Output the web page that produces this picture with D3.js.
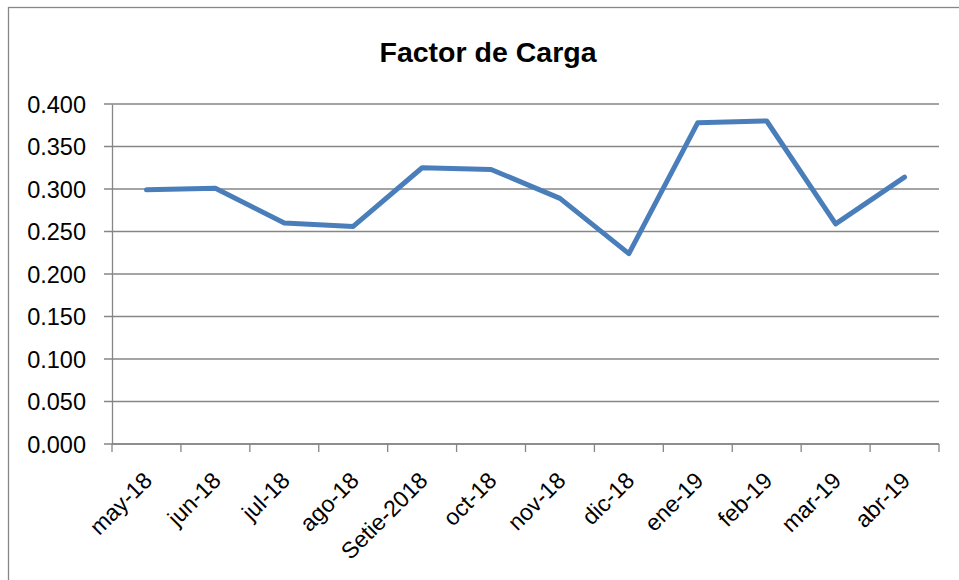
<!DOCTYPE html>
<html>
<head>
<meta charset="utf-8">
<script src="https://cdn.jsdelivr.net/npm/d3@7"></script>
<style>
  body { margin: 0; background: #fff; }
  svg text { font-family: "Liberation Sans", Arial, sans-serif; fill: #000; }
</style>
</head>
<body>
<div id="chart"></div>
<script>
// data
const months = ["may-18", "jun-18", "jul-18", "ago-18", "Setie-2018", "oct-18",
  "nov-18", "dic-18", "ene-19", "feb-19", "mar-19", "abr-19"];
const factor = [0.299, 0.301, 0.260, 0.256, 0.325, 0.323,
  0.289, 0.224, 0.378, 0.380, 0.259, 0.314];
const yTicks = [0, 0.05, 0.1, 0.15, 0.2, 0.25, 0.3, 0.35, 0.4];
const title = "Factor de Carga";

const width = 959, height = 580;
const margin = { top: 104, bottom: 136, left: 112, right: 20 };

const svg = d3.select("#chart").append("svg")
  .attr("width", width)
  .attr("height", height);

// outer chart border
svg.append("rect")
  .attr("x", 8.5).attr("y", 7.5)
  .attr("width", width + 10).attr("height", height + 10)
  .attr("fill", "none")
  .attr("stroke", "#878787")
  .attr("stroke-width", 1.3);

const xScale = d3.scaleBand()
  .domain(months)
  .range([margin.left, width - margin.right]);

const yScale = d3.scaleLinear()
  .domain([0, 0.4])
  .range([height - margin.bottom, margin.top]);

// gridlines
svg.append("g")
  .selectAll("line")
  .data(yTicks)
  .join("line")
  .attr("x1", margin.left - 8)
  .attr("x2", width - margin.right)
  .attr("y1", d => yScale(d))
  .attr("y2", d => yScale(d))
  .attr("stroke", "#868686")
  .attr("stroke-width", 1.3);

// y axis
const yAxis = d3.axisLeft(yScale)
  .tickValues(yTicks)
  .tickFormat(d3.format(".3f"))
  .tickSize(0)
  .tickPadding(26);

svg.append("g")
  .attr("transform", `translate(${margin.left},0)`)
  .call(yAxis)
  .call(g => g.select(".domain").attr("stroke", "#868686").attr("stroke-width", 1.3))
  .selectAll("text")
  .attr("font-size", 23.5)
  .attr("dy", "0.36em");

// x axis with tick marks at the band edges
const xAxis = d3.axisBottom(xScale).tickSize(0).tickFormat("");
const xg = svg.append("g")
  .attr("transform", `translate(0,${height - margin.bottom})`)
  .call(xAxis);
xg.select(".domain").remove();
xg.append("line")
  .attr("x1", margin.left).attr("x2", width - margin.right)
  .attr("stroke", "#868686").attr("stroke-width", 1.3);

const edges = months.map(m => xScale(m)).concat([width - margin.right]);
xg.selectAll(".edge")
  .data(edges)
  .join("line")
  .attr("class", "edge")
  .attr("x1", d => d).attr("x2", d => d)
  .attr("y1", 0).attr("y2", 8)
  .attr("stroke", "#868686").attr("stroke-width", 1.3);

xg.selectAll(".lbl")
  .data(months)
  .join("text")
  .attr("class", "lbl")
  .attr("font-size", 23)
  .attr("text-anchor", "end")
  .attr("transform", d => `translate(${xScale(d) + xScale.bandwidth() / 2 + 7},${38}) rotate(-45)`)
  .text(d => d);

// line
const line = d3.line()
  .x((d, i) => xScale(months[i]) + xScale.bandwidth() / 2)
  .y(d => yScale(d));

svg.append("path")
  .datum(factor)
  .attr("fill", "none")
  .attr("stroke", "#4a7ebb")
  .attr("stroke-width", 5)
  .attr("stroke-linejoin", "round")
  .attr("stroke-linecap", "round")
  .attr("d", line);

// title
svg.append("text")
  .attr("x", 488)
  .attr("y", 62)
  .attr("text-anchor", "middle")
  .attr("font-size", 28.5)
  .attr("font-weight", "bold")
  .text(title);
</script>
</body>
</html>
